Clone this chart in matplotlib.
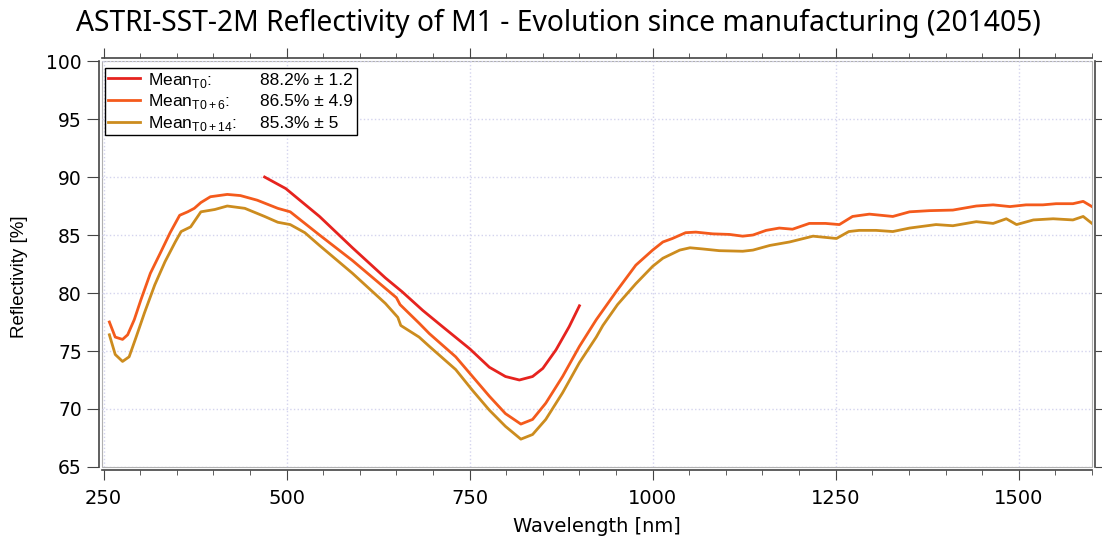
import matplotlib
matplotlib.use("Agg")
import matplotlib.pyplot as plt

# Mean T0 (red), measured 470-900 nm
wl_t0 = [470, 499, 545, 590, 635, 658, 686, 713, 750, 777, 799, 818, 836, 850, 868, 886, 900]
refl_t0 = [90.0, 89.0, 86.6, 83.9, 81.3, 80.1, 78.5, 77.1, 75.2, 73.6, 72.8, 72.5, 72.8, 73.5, 75.1, 77.1, 78.9]

# Mean T0+6 (orange)
wl_t6 = [258, 266, 276, 283, 292, 301, 314, 328, 341, 354, 365, 374, 383, 396, 419, 437, 460,
         488, 505, 525, 545, 590, 635, 650, 655, 681, 695, 731, 754, 777, 799, 820, 836, 854,
         877, 900, 923, 950, 977, 1000, 1014, 1027, 1045, 1059, 1082, 1105, 1123, 1137, 1155,
         1173, 1191, 1214, 1236, 1255, 1273, 1296, 1328, 1351, 1378, 1410, 1442, 1465, 1488,
         1510, 1533, 1551, 1574, 1588, 1600]
refl_t6 = [77.5, 76.2, 76.0, 76.4, 77.7, 79.4, 81.7, 83.5, 85.2, 86.7, 87.0, 87.3, 87.8, 88.3, 88.5, 88.4, 88.0,
           87.3, 87.0, 86.0, 85.0, 82.8, 80.4, 79.6, 79.0, 77.4, 76.5, 74.5, 72.8, 71.1, 69.6, 68.7, 69.1, 70.5,
           72.8, 75.4, 77.7, 80.1, 82.4, 83.7, 84.4, 84.7, 85.2, 85.25, 85.1, 85.05, 84.9, 85.0, 85.4,
           85.6, 85.5, 86.0, 86.0, 85.9, 86.6, 86.8, 86.6, 87.0, 87.1, 87.15, 87.5, 87.6, 87.45,
           87.6, 87.6, 87.7, 87.7, 87.9, 87.45]

# Mean T0+14 (gold)
wl_t14 = [258, 266, 276, 285, 294, 306, 320, 334, 348, 356, 369, 383, 402, 419, 443, 470, 488,
          505, 525, 545, 590, 635, 652, 656, 681, 695, 731, 754, 777, 799, 820, 836, 854, 877,
          900, 923, 932, 952, 977, 1000, 1014, 1037, 1051, 1068, 1091, 1123, 1137, 1160, 1187,
          1219, 1251, 1268, 1282, 1305, 1328, 1351, 1387, 1410, 1442, 1465, 1483, 1497, 1520,
          1547, 1574, 1588, 1600]
refl_t14 = [76.4, 74.7, 74.1, 74.5, 76.1, 78.3, 80.7, 82.7, 84.4, 85.3, 85.7, 87.0, 87.2, 87.5, 87.3, 86.6, 86.1,
            85.9, 85.2, 84.1, 81.7, 79.1, 77.9, 77.2, 76.2, 75.4, 73.4, 71.6, 69.9, 68.5, 67.4, 67.8, 69.1, 71.4,
            74.0, 76.2, 77.2, 79.0, 80.8, 82.3, 83.0, 83.7, 83.9, 83.8, 83.65, 83.6, 83.7, 84.1, 84.4,
            84.9, 84.7, 85.3, 85.4, 85.4, 85.3, 85.6, 85.9, 85.8, 86.15, 86.0, 86.4, 85.9, 86.3,
            86.4, 86.3, 86.6, 86.0]

series_labels = ['Mean$_{\\mathregular{T0}}$:', 'Mean$_{\\mathregular{T0+6}}$:', 'Mean$_{\\mathregular{T0+14}}$:']
series_values = ['88.2% \u00b1 1.2', '86.5% \u00b1 4.9', '85.3% \u00b1 5']
colors = ['#e6231e', '#f45a1c', '#cc8c1e']

xticks = [250, 500, 750, 1000, 1250, 1500]
yticks = [65, 70, 75, 80, 85, 90, 95, 100]

legend_font = {'family': ['Liberation Sans', 'DejaVu Sans'], 'size': 12.5}

fig = plt.figure(figsize=(11.02, 5.41), dpi=100)
ax = fig.add_axes([0.0926, 0.1368, 0.8983, 0.7504])

l0, = ax.plot(wl_t0, refl_t0, color=colors[0], lw=2.0)
l6, = ax.plot(wl_t6, refl_t6, color=colors[1], lw=2.0)
l14, = ax.plot(wl_t14, refl_t14, color=colors[2], lw=2.0)

ax.set_xlim(248, 1600)
ax.set_ylim(65, 100)
ax.set_xticks(xticks)
ax.set_yticks(yticks)
ax.set_xticks(range(250, 1601, 50), minor=True)
ax.grid(True, which='major', color='#d4d4ee', linestyle=':', linewidth=1.0)
ax.patch.set_edgecolor('#b0b0b0')
ax.patch.set_linewidth(0.8)
ax.tick_params(which='both', direction='out', top=True, right=True, color='#444444')
ax.tick_params(axis='x', which='major', length=7.5, pad=6, labelsize=14)
ax.tick_params(axis='x', which='minor', length=3.75)
ax.tick_params(axis='y', which='major', length=9, pad=3, labelsize=13.5)
for sp in ax.spines.values():
    sp.set_color('#444444')
    sp.set_linewidth(1.2)
    sp.set_position(('outward', 2.5))

ax.set_xlabel('Wavelength [nm]', fontsize=14, labelpad=6)
ax.set_ylabel('Reflectivity [%]', family=['Liberation Sans', 'DejaVu Sans'], fontsize=13.5)
ax.yaxis.set_label_coords(-0.0745, 0.468)

fig.text(0.507, 0.957, 'ASTRI-SST-2M Reflectivity of M1 - Evolution since manufacturing (201405)',
         ha='center', va='center', fontsize=20.3, family=['Noto Sans', 'DejaVu Sans'])

# legend box stretched to the reference width; values added as a second column of text
leg = ax.legend([l0, l6, l14], series_labels, loc='upper left', mode='expand',
                bbox_to_anchor=(0.003, 0.80, 0.2545, 0.183),
                borderaxespad=0, fancybox=False, framealpha=1, edgecolor='black',
                prop=legend_font, handlelength=1.85, handletextpad=0.45,
                labelspacing=0.15, borderpad=0.15)
leg.get_frame().set_linewidth(1.0)

fig.canvas.draw()
for txt, val in zip(leg.get_texts(), series_values):
    px, py = txt.get_transform().transform(txt.get_position())
    fig.text(260 / 1102, py / fig.bbox.height, val, ha='left', va='baseline',
             fontsize=legend_font['size'], family=legend_font['family'], zorder=10)

fig.savefig('out.png', dpi=100)
